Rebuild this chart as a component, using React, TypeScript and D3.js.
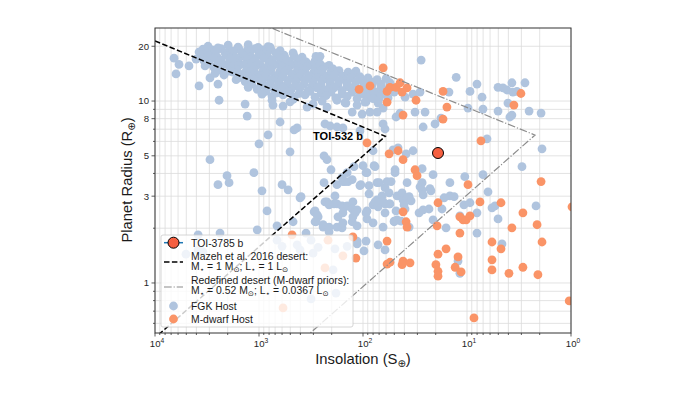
import * as d3 from "d3";

// Insolation (S_earth) and radius (R_earth) of known planets
const fgkDense: [number, number][] = [
  [3090, 20.0], [2480, 19.6], [1980, 20.3], [1590, 19.8], [1270, 20.4], [1020, 19.7], [819, 19.9],
  [3450, 19.3], [2830, 19.1], [2320, 19.4], [1900, 19.0], [1560, 19.3], [1300, 19.0], [1090, 19.4], [915, 19.1], [766, 19.2], [627, 18.9],
  [3770, 18.6], [3160, 18.2], [2590, 18.9], [2120, 18.4], [1780, 18.8], [1460, 18.3], [1220, 18.7], [1000, 18.1], [837, 18.6], [686, 18.3], [574, 17.9], [470, 18.4],
  [3690, 17.6], [3020, 17.8], [2530, 17.5], [2070, 17.8], [1700, 17.4], [1420, 17.7], [1190, 17.5], [978, 17.8], [819, 17.4], [671, 17.6], [562, 17.3], [460, 17.7], [385, 17.4],
  [4030, 17.0], [3370, 16.6], [2770, 17.2], [2320, 16.8], [1900, 17.1], [1590, 16.6], [1300, 17.0], [1090, 16.7], [895, 17.2], [749, 16.8], [613, 17.0], [514, 16.5], [421, 16.9], [353, 16.4], [289, 16.6],
  [3020, 16.1], [2480, 16.3], [2030, 15.9], [1700, 16.2], [1390, 15.9], [1170, 16.2], [978, 15.9], [801, 16.2], [656, 15.9], [549, 16.2], [460, 15.9], [377, 16.1], [316, 15.8], [259, 16.0], [212, 15.7],
  [3300, 15.6], [2710, 15.3], [2270, 15.8], [1860, 15.4], [1560, 15.7], [1270, 15.3], [1070, 15.6], [875, 15.2], [733, 15.7], [600, 15.4], [503, 15.6], [412, 15.2], [345, 15.5], [283, 15.1], [237, 15.4], [194, 15.0],
  [2370, 14.8], [1940, 14.6], [1630, 14.9], [1330, 14.6], [1120, 14.9], [915, 14.6], [766, 14.9], [627, 14.6], [525, 14.9], [430, 14.6], [361, 14.8], [295, 14.5], [247, 14.8], [203, 14.5], [170, 14.7], [139, 14.4], [117, 14.6],
  [2650, 14.2], [2170, 13.9], [1780, 14.4], [1490, 14.0], [1220, 14.3], [1020, 13.9], [837, 14.2], [701, 13.8], [574, 14.3], [481, 14.0], [394, 14.2], [330, 13.8], [270, 14.1], [227, 13.7], [186, 14.0], [156, 13.7], [127, 13.9], [107, 13.6],
  [1520, 13.5], [1250, 13.7], [1020, 13.4], [856, 13.6], [701, 13.3], [587, 13.6], [481, 13.4], [403, 13.6], [330, 13.3], [276, 13.5], [227, 13.3], [190, 13.5], [156, 13.2], [130, 13.4], [107, 13.2], [89.5, 13.4], [73.2, 13.1], [60.0, 13.3],
  [1660, 13.1], [1360, 12.8], [1120, 13.2], [936, 12.9], [766, 13.1], [641, 12.7], [525, 13.0], [440, 12.8], [361, 13.1], [302, 12.7], [247, 13.0], [207, 12.6], [170, 12.9], [142, 12.5], [117, 12.8], [97.9, 12.5], [80.0, 12.7], [67.0, 12.4], [55.0, 12.6],
  [1170, 12.4], [957, 12.2], [783, 12.5], [656, 12.2], [537, 12.4], [450, 12.1], [369, 12.4], [309, 12.1], [253, 12.3], [207, 12.0], [174, 12.3], [142, 12.0], [119, 12.2], [97.9, 11.9], [81.8, 12.2], [67.0, 11.9], [55.0, 12.1],
  [1270, 11.9], [1040, 11.6], [856, 12.0], [717, 11.7], [587, 11.9], [492, 11.5], [403, 11.8], [337, 11.4], [276, 11.8], [232, 11.5], [190, 11.8], [159, 11.4], [130, 11.7], [109, 11.3], [89.5, 11.6], [74.9, 11.2], [61.4, 11.5], [50.2, 11.2],
  [856, 11.3], [671, 11.1], [525, 11.3], [412, 11.0], [323, 11.3], [253, 11.0], [203, 11.2], [159, 10.9], [127, 11.2], [100, 10.9], [80.0, 11.1], [64.1, 10.9],
  [936, 10.9], [749, 10.6], [587, 10.8], [460, 10.5], [361, 10.8], [289, 10.5], [227, 10.7], [182, 10.4], [142, 10.6], [114, 10.3], [89.5, 10.5], [70.1, 10.3], [57.4, 10.4],
  [749, 10.1], [503, 9.9], [247, 10.0], [149, 9.8], [93.5, 9.9],
];

const fgkSparse: [number, number][] = [
  [6560, 17.2], [5880, 15.9], [6280, 14.1], [4710, 15.6], [3770, 12.1], [2960, 13.4], [2480, 12.4], [2420, 10.1],
  [1360, 9.62], [1300, 8.27], [627, 7.67], [819, 6.51], [460, 6.94], [430, 7.11], [1000, 5.82], [232, 7.48],
  [503, 5.26], [2960, 4.76], [2030, 3.89], [1120, 4.04], [2480, 3.47], [1940, 3.56], [237, 5.0], [222, 4.76],
  [203, 4.19], [600, 3.47], [525, 3.25], [156, 3.61], [178, 3.47], [283, 17.6], [783, 19.8], [259, 17.6],
  [936, 3.21], [837, 2.49], [1040, 1.96], [671, 2.06], [2370, 1.88], [3850, 1.84], [403, 2.94], [470, 2.17],
  [353, 1.88], [295, 2.46], [270, 2.31], [242, 2.03], [212, 1.91], [222, 2.79], [186, 3.01], [237, 3.56],
  [190, 2.72], [178, 2.72], [159, 2.65], [149, 2.62], [142, 2.65], [174, 2.31], [159, 2.01], [283, 2.17],
  [149, 3.61], [139, 3.61], [394, 2.98], [142, 4.04], [159, 3.79], [127, 3.70], [107, 3.43], [93.5, 4.04],
  [78.3, 4.41], [73.2, 3.56], [58.7, 3.61], [61.4, 3.34], [87.5, 3.09], [73.2, 2.86], [65.5, 2.79], [61.4, 2.72],
  [71.6, 2.62], [56.1, 3.13], [47.0, 3.01], [232, 2.79], [212, 2.69], [125, 2.79], [114, 2.52], [91.5, 2.49],
  [289, 2.49], [276, 2.37], [289, 2.17], [242, 2.09], [212, 2.03], [178, 2.03], [156, 2.14], [127, 2.17],
  [114, 2.06], [91.5, 2.25], [80.0, 2.14], [64.1, 2.03], [47.0, 2.22],
  [587, 9.38], [470, 10.2], [345, 9.26], [302, 9.62], [222, 9.26], [178, 10.1], [146, 9.74], [127, 8.70],
  [102, 8.48], [85.6, 8.70], [73.2, 8.70], [64.1, 9.15], [71.6, 9.74], [80.0, 10.3], [95.6, 9.86], [114, 9.50],
  [733, 9.50], [207, 7.29], [178, 7.20], [156, 7.11], [64.1, 7.48], [61.4, 7.02], [107, 6.85],
  [27.6, 16.8], [12.7, 13.5], [8.02, 12.4], [5.03, 11.9], [4.51, 11.8], [4.13, 11.5], [3.70, 12.6], [3.62, 11.2],
  [3.31, 11.3], [2.77, 12.6], [14.9, 11.2], [9.36, 11.3], [7.17, 10.5], [28.3, 11.2], [39.4, 10.5], [33.0, 10.9],
  [9.78, 9.15], [7.02, 9.03], [5.03, 8.81], [2.53, 8.81], [1.94, 8.59], [4.04, 9.74], [3.70, 8.37], [3.87, 8.17],
  [17.8, 8.06], [26.4, 7.20], [20.3, 7.48], [31.6, 8.70], [25.3, 8.70], [44.0, 8.59], [48.1, 8.17],
  [6.42, 6.20], [1.90, 5.46], [51.4, 5.39], [38.5, 5.13], [33.0, 5.33], [46.0, 5.53], [2.96, 4.36],
  [21.2, 3.94], [10.5, 3.84], [7.02, 3.94], [14.6, 3.56], [49.2, 4.19], [49.2, 4.04], [37.7, 3.56], [27.0, 3.56],
  [28.3, 3.38], [70.1, 3.56], [105, 3.47], [87.5, 3.43], [53.7, 3.61], [76.6, 4.36], [91.5, 4.04], [100, 4.41],
  [80.0, 5.33], [122, 4.36], [27.0, 4.25], [22.7, 3.30], [6.28, 3.17], [27.0, 3.25], [26.4, 3.05], [22.2, 3.21],
  [42.1, 3.13], [41.2, 2.86], [37.7, 2.94], [36.0, 2.98], [34.5, 2.83], [40.3, 2.69], [55.0, 2.72], [48.1, 2.49],
  [50.2, 2.17], [43.0, 2.19], [36.0, 2.03], [28.9, 2.43], [26.4, 2.52], [23.2, 2.55], [17.4, 2.55], [16.6, 2.94],
  [14.6, 3.01], [13.3, 2.98], [21.2, 2.22], [15.9, 2.01], [10.7, 2.69], [9.36, 2.76], [11.7, 2.34], [8.02, 2.43],
  [8.02, 1.88], [5.75, 2.59], [5.38, 2.65], [5.03, 2.25], [2.17, 2.65], [4.61, 1.64], [12.2, 1.32], [11.7, 1.13],
  [114, 1.70], [97.9, 1.50], [93.5, 1.70], [61.4, 1.52], [71.6, 1.62], [127, 2.55], [119, 2.43], [125, 2.31],
  [156, 2.43], [93.5, 2.43], [80.0, 2.69], [76.6, 2.79], [65.5, 3.01], [64.1, 2.79], [56.1, 2.72], [61.4, 2.43],
  [50.2, 2.19], [39.4, 2.55],
  [5040, 1.44], [3850, 1.52], [3450, 1.48], [671, 1.72], [600, 1.59], [430, 1.62], [316, 1.72], [403, 1.52],
  [270, 1.57], [302, 1.46], [186, 1.54], [142, 1.59], [194, 1.18], [182, 0.88], [316, 0.817], [114, 1.64],
];

const mdwarfHosts: [number, number][] = [
  [64.0, 15.2], [109, 11.6], [85.6, 12.1], [58.7, 11.3], [55.0, 11.9], [48.1, 11.9], [44.0, 12.6], [37.7, 11.8],
  [42.1, 11.2], [58.7, 9.86], [30.9, 10.1], [17.0, 11.3], [15.6, 9.26], [17.0, 7.96], [3.03, 11.0], [3.54, 9.50],
  [41.2, 8.37], [91.5, 5.89], [56.1, 5.13], [46.0, 5.33], [41.2, 4.76], [7.34, 6.04], [31.6, 4.19], [30.2, 3.89],
  [9.78, 3.47], [1.94, 3.61], [19.0, 2.76], [41.2, 2.46], [38.5, 2.17], [37.7, 2.03], [19.4, 2.06], [11.7, 2.31],
  [10.9, 2.22], [10.2, 2.22], [9.36, 2.34], [7.50, 2.79], [11.7, 1.88], [4.71, 2.76], [2.90, 2.43], [3.70, 2.01],
  [2.12, 2.09], [1.90, 1.68], [0.978, 2.62], [5.75, 1.68], [4.71, 1.54], [15.9, 1.54], [19.0, 1.44], [12.2, 1.39],
  [13.0, 1.22], [11.4, 1.15], [19.9, 1.26], [19.0, 1.16], [19.0, 1.09], [5.75, 1.34], [5.75, 1.18], [3.95, 1.13],
  [2.90, 1.22], [2.08, 1.11], [41.2, 1.32], [35.3, 1.29], [42.1, 1.26], [55.0, 1.30], [1.04, 0.797], [8.57, 0.643],
  [117, 1.37], [58.7, 1.27], [58.7, 1.70], [481, 1.84], [217, 1.72], [156, 1.41], [232, 1.21], [587, 0.729],
  [125, 1.79],
];

// Target planet and annotation
const toi3785 = { name: "TOI-3785 b", S: 19.0, R: 5.18 };
const toi532 = { name: "TOI-532 b", S: 100, R: 6.1 };

// Desert boundaries (vertices in S, R)
const mazehDesert: [number, number][] = [[1e4, 21.4], [61, 6.4], [1e4, 0.5]];
const redefinedDesert: [number, number][] = [[1e4, 45.8], [2.22, 6.5], [1e4, 0.094]];

const xTickValues = [1e4, 1e3, 1e2, 1e1, 1];
const xTickExponents = ["4", "3", "2", "1", "0"];
const yTickValues = [1, 3, 5, 8, 10, 20];
const yTickLabels = ["1", "3", "5", "8", "10", "20"];

const FONT = "'Liberation Sans', Arial, 'DejaVu Sans', sans-serif";
const BLUE = "#b0c4de";
const ORANGE = "#fa9467";
const RED = "#f55f40";

export default function App() {
  const left = 155, right = 571, top = 28, bottom = 333;
  const x = d3.scaleLog().domain([1e4, 1]).range([left, right]);
  const y = d3.scaleLog().domain([0.531, 25.2]).range([bottom, top]);
  const line = d3.line<[number, number]>().x(d => x(d[0])).y(d => y(d[1]));

  const xGrid = x.ticks();
  const yGrid = y.ticks();
  const dotR = 4.4;

  return (
    <div style={{ position: "absolute", left: 0, top: 0 }}>
      <svg width={700} height={394} style={{ display: "block", fontFamily: FONT }}>
        <rect width={700} height={394} fill="white" />
        <defs>
          <clipPath id="plot">
            <rect x={left} y={top} width={right - left} height={bottom - top} />
          </clipPath>
        </defs>

        {/* grid */}
        <g stroke="#dcdcdc" strokeWidth={0.8}>
          {xGrid.map((v, i) => (
            <line key={`gx${i}`} x1={x(v)} x2={x(v)} y1={top} y2={bottom} />
          ))}
          {yGrid.map((v, i) => (
            <line key={`gy${i}`} x1={left} x2={right} y1={y(v)} y2={y(v)} />
          ))}
        </g>

        <g clipPath="url(#plot)">
          {[...fgkDense, ...fgkSparse].map((d, i) => (
            <circle key={`f${i}`} cx={x(d[0])} cy={y(d[1])} r={dotR} fill={BLUE} />
          ))}
          {mdwarfHosts.map((d, i) => (
            <circle key={`m${i}`} cx={x(d[0])} cy={y(d[1])} r={dotR} fill={ORANGE} />
          ))}
          <path d={line(mazehDesert) || ""} fill="none" stroke="black" strokeWidth={1.5} strokeDasharray="5.5 2.4" />
          <path d={line(redefinedDesert) || ""} fill="none" stroke="#8c8c8c" strokeWidth={1.2} strokeDasharray="7.7 1.9 1.2 1.9" />
          <circle cx={x(toi3785.S)} cy={y(toi3785.R)} r={5.5} fill={RED} stroke="black" strokeWidth={1} />
        </g>

        <text x={x(toi532.S)} y={y(toi532.R)} textAnchor="end" fontSize={11} fontWeight="bold" fill="black">
          {toi532.name}
        </text>

        {/* axes frame */}
        <rect x={left} y={top} width={right - left} height={bottom - top} fill="none" stroke="#333" strokeWidth={1} />

        {/* ticks */}
        <g stroke="#333" strokeWidth={0.8}>
          {xGrid.map((v, i) => {
            const major = xTickValues.some(t => Math.abs(t - v) < 1e-6);
            return <line key={`tx${i}`} x1={x(v)} x2={x(v)} y1={bottom} y2={bottom + (major ? 3.5 : 2)} />;
          })}
          {yGrid.map((v, i) => {
            const major = yTickValues.some(t => Math.abs(t - v) < 1e-6);
            return <line key={`ty${i}`} x1={left} x2={left - (major ? 3.5 : 2)} y1={y(v)} y2={y(v)} />;
          })}
        </g>
        {xTickValues.map((v, i) => (
          <text key={`xl${i}`} x={x(v) + 2} y={347} textAnchor="middle" fontSize={9.6} fill="#262626">
            10<tspan fontSize={6.7} dy={-4}>{xTickExponents[i]}</tspan>
          </text>
        ))}
        {yTickValues.map((v, i) => (
          <text key={`yl${i}`} x={149} y={y(v) + 3.4} textAnchor="end" fontSize={9.6} fill="#262626">
            {yTickLabels[i]}
          </text>
        ))}

        {/* axis labels */}
        <text x={363} y={364} textAnchor="middle" fontSize={14.8} fill="#1a1a1a">
          Insolation (S<tspan fontSize={10} dy={3}>⊕</tspan><tspan dy={-3}>)</tspan>
        </text>
        <text transform="translate(132,180) rotate(-90)" textAnchor="middle" fontSize={14.8} fill="#1a1a1a">
          Planet Radius (R<tspan fontSize={10} dy={3}>⊕</tspan><tspan dy={-3}>)</tspan>
        </text>

        {/* legend */}
        <g fontSize={10.4} fill="#1a1a1a">
          <rect x={161} y={235} width={192} height={92} rx={2} fill="white" fillOpacity={0.8} stroke="#cccccc" strokeWidth={0.8} />
          <line x1={164} x2={183} y1={242.7} y2={242.7} stroke="#1f77b4" strokeWidth={1.5} />
          <circle cx={173.5} cy={242.7} r={5.5} fill={RED} stroke="black" strokeWidth={1} />
          <text x={191} y={246.5}>{toi3785.name}</text>

          <line x1={164} x2={183} y1={262} y2={262} stroke="black" strokeWidth={1.5} strokeDasharray="5.5 2.4" />
          <text x={191} y={260.2}>Mazeh et al. 2016 desert:</text>
          <text x={191} y={270.2}>
            M<tspan fontSize={7.3} dy={2}>⋆</tspan><tspan dy={-2}> = 1 M</tspan><tspan fontSize={7.3} dy={2}>⊙</tspan>
            <tspan dy={-2}>; L</tspan><tspan fontSize={7.3} dy={2}>⋆</tspan><tspan dy={-2}> = 1 L</tspan><tspan fontSize={7.3} dy={2}>⊙</tspan>
          </text>

          <line x1={164} x2={183} y1={287} y2={287} stroke="#8c8c8c" strokeWidth={1.2} strokeDasharray="7.7 1.9 1.2 1.9" />
          <text x={191} y={283.6}>Redefined desert (M-dwarf priors):</text>
          <text x={191} y={294.2}>
            M<tspan fontSize={7.3} dy={2}>⋆</tspan><tspan dy={-2}> = 0.52 M</tspan><tspan fontSize={7.3} dy={2}>⊙</tspan>
            <tspan dy={-2}>; L</tspan><tspan fontSize={7.3} dy={2}>⋆</tspan><tspan dy={-2}> = 0.0367 L</tspan><tspan fontSize={7.3} dy={2}>⊙</tspan>
          </text>

          <circle cx={173.5} cy={306} r={dotR} fill={BLUE} />
          <text x={191} y={309.5}>FGK Host</text>
          <circle cx={173.5} cy={319} r={dotR} fill={ORANGE} />
          <text x={191} y={322.7}>M-dwarf Host</text>
        </g>
      </svg>
    </div>
  );
}
